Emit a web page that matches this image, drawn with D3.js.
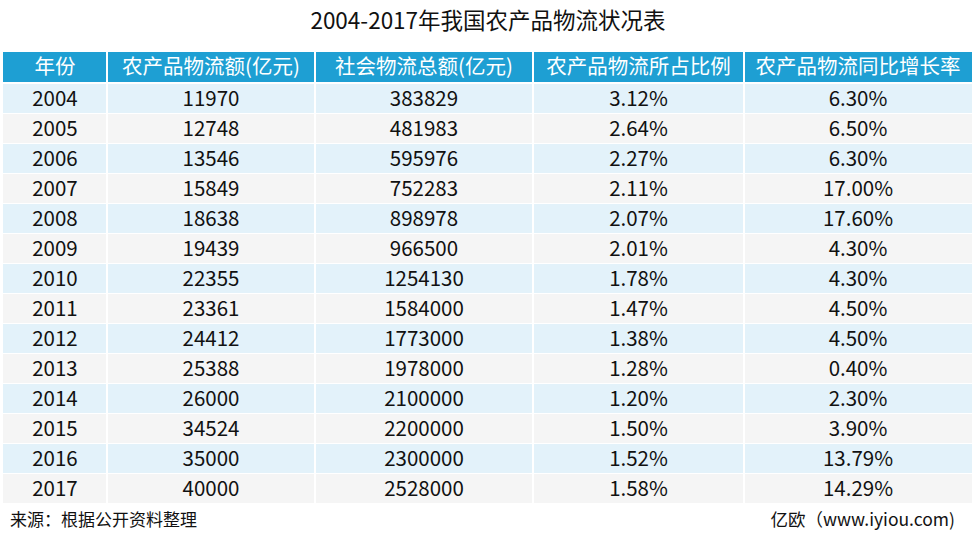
<!DOCTYPE html>
<html><head><meta charset="utf-8">
<script src="https://cdn.jsdelivr.net/npm/d3@7/dist/d3.min.js"></script>
<style>body{margin:0;background:#fff;}svg{display:block;}</style>
</head><body>
<svg id="c" width="977" height="536"></svg>
<script>
const title = "2004-2017年我国农产品物流状况表";
const headers = ["年份","农产品物流额(亿元)","社会物流总额(亿元)","农产品物流所占比例","农产品物流同比增长率"];
const years = ["2004","2005","2006","2007","2008","2009","2010","2011","2012","2013","2014","2015","2016","2017"];
const agriLogistics = ["11970","12748","13546","15849","18638","19439","22355","23361","24412","25388","26000","34524","35000","40000"];
const socialLogistics = ["383829","481983","595976","752283","898978","966500","1254130","1584000","1773000","1978000","2100000","2200000","2300000","2528000"];
const shareRatio = ["3.12%","2.64%","2.27%","2.11%","2.07%","2.01%","1.78%","1.47%","1.38%","1.28%","1.20%","1.50%","1.52%","1.58%"];
const growthRate = ["6.30%","6.50%","6.30%","17.00%","17.60%","4.30%","4.30%","4.50%","4.50%","0.40%","2.30%","3.90%","13.79%","14.29%"];
const source = "来源：根据公开资料整理";
const credit = "亿欧（www.iyiou.com)";

const rows = years.map((y,i)=>[y,agriLogistics[i],socialLogistics[i],shareRatio[i],growthRate[i]]);
const colEdges = [3,107,315,533,744,972];
const font = "'Noto Sans CJK SC','Noto Sans',sans-serif";
const svg = d3.select("#c");

svg.append("text").attr("x",488).attr("y",29).attr("text-anchor","middle")
  .attr("font-family",font).attr("font-size",22.5).attr("fill","#111").text(title);

const x = d3.scaleOrdinal().domain(d3.range(5)).range(colEdges.slice(0,5));
const w = i => colEdges[i+1]-colEdges[i];

// header
const hg = svg.append("g");
hg.selectAll("rect").data(headers).join("rect")
  .attr("x",(d,i)=>x(i)).attr("y",52).attr("width",(d,i)=>w(i)).attr("height",30).attr("fill","#1E9FD3");
hg.selectAll("line").data(d3.range(1,5)).join("line")
  .attr("x1",i=>colEdges[i]).attr("x2",i=>colEdges[i]).attr("y1",52).attr("y2",82).attr("stroke","#fff").attr("stroke-width",2);
hg.selectAll("text").data(headers).join("text")
  .attr("x",(d,i)=>x(i)+w(i)/2).attr("y",74).attr("text-anchor","middle")
  .attr("font-family",font).attr("font-size",20.5).attr("fill","#fff").text(d=>d);

// body
const rowTop = i => 84 + i*30;
const bg = svg.append("g");
rows.forEach((r,ri)=>{
  const g = bg.append("g");
  g.append("rect").attr("x",3).attr("y",rowTop(ri)).attr("width",969).attr("height",29)
    .attr("fill", ri%2===0 ? "#E3F2FA" : "#F5F5F5");
  g.selectAll("line").data(d3.range(1,5)).join("line")
    .attr("x1",i=>colEdges[i]).attr("x2",i=>colEdges[i]).attr("y1",rowTop(ri)).attr("y2",rowTop(ri)+29)
    .attr("stroke","#fff").attr("stroke-width",2);
  g.selectAll("text").data(r).join("text")
    .attr("x",(d,i)=>x(i)+w(i)/2).attr("y",rowTop(ri)+22).attr("text-anchor","middle")
    .attr("font-family",font).attr("font-size",20.5).attr("fill","#111").text(d=>d);
});

svg.append("text").attr("x",10).attr("y",526).attr("font-family",font).attr("font-size",17).attr("fill","#111").text(source);
svg.append("text").attr("x",955).attr("y",526).attr("text-anchor","end").attr("font-family",font).attr("font-size",17.5).attr("fill","#111").text(credit);
</script>
</body></html>
